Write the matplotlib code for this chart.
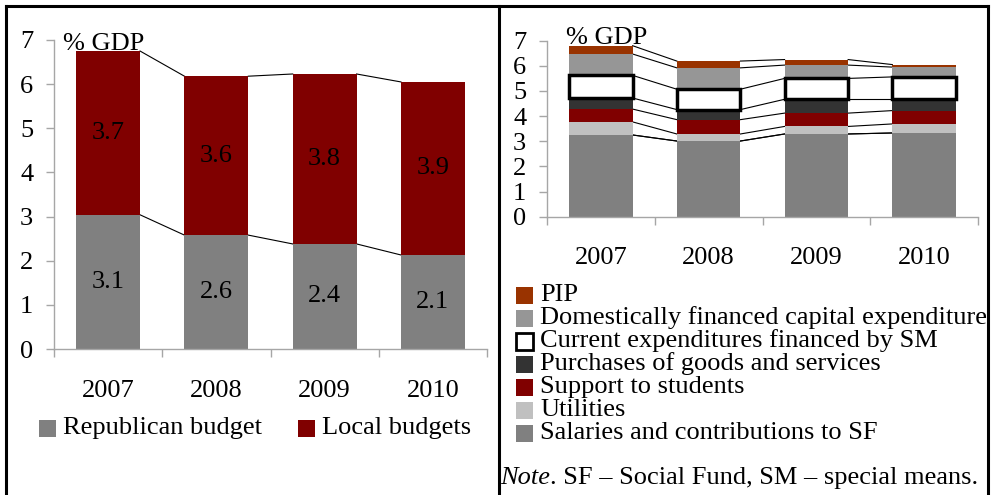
import matplotlib
matplotlib.use("Agg")
import matplotlib.pyplot as plt
from matplotlib.lines import Line2D
from matplotlib.patches import Rectangle
import numpy as np

plt.rcParams['font.family'] = ['Liberation Serif', 'DejaVu Serif']
FS = 19

years = ["2007", "2008", "2009", "2010"]

# left panel
republican = [3.04, 2.58, 2.38, 2.13]
local = [3.71, 3.60, 3.85, 3.92]
republican_lbl = ["3.1", "2.6", "2.4", "2.1"]
local_lbl = ["3.7", "3.6", "3.8", "3.9"]

# right panel (bottom to top)
salaries = [3.25, 3.01, 3.29, 3.33]
utilities = [0.52, 0.28, 0.30, 0.36]
students = [0.51, 0.57, 0.53, 0.53]
purchases = [0.44, 0.40, 0.55, 0.45]
current_sm = [0.90, 0.81, 0.83, 0.89]
capital = [0.85, 0.85, 0.53, 0.39]
pip = [0.33, 0.27, 0.22, 0.10]

W, H = 1000, 495
fig = plt.figure(figsize=(10, 4.95), dpi=100)

def fx(px):
    return px / W

def fy(py):
    return 1 - py / H

def axes_px(l, r, t, b):
    return fig.add_axes([fx(l), fy(b), fx(r) - fx(l), fy(t) - fy(b)])

def style_axis(ax, pad_y, pad_x):
    ax.set_xlim(-0.5, 3.5)
    ax.set_ylim(0, 7)
    ax.set_yticks(range(8))
    ax.set_xticks([-0.5, 0.5, 1.5, 2.5, 3.5])
    ax.set_xticklabels([])
    ax.set_xticks(range(4), minor=True)
    ax.set_xticklabels(years, minor=True)
    for s in ['top', 'right']:
        ax.spines[s].set_visible(False)
    for s in ['left', 'bottom']:
        ax.spines[s].set_color('#a6a6a6')
        ax.spines[s].set_linewidth(1)
    ax.tick_params(axis='both', which='major', length=6, width=1, color='#a6a6a6', labelsize=FS)
    ax.tick_params(axis='y', pad=pad_y)
    ax.tick_params(axis='x', which='minor', length=0, labelsize=FS, pad=pad_x)
    ax.patch.set_alpha(0)

def connectors(ax, tops, w):
    for i in range(len(tops) - 1):
        ax.plot([i + w / 2, i + 1 - w / 2], [tops[i], tops[i + 1]], color='black', lw=0.8, zorder=1)

# ---- left chart
w = 0.59
ax1 = axes_px(54, 487, 40, 349)
x = np.arange(4)
b1 = ax1.bar(x, republican, w, color='#808080', zorder=2)
b2 = ax1.bar(x, local, w, bottom=republican, color='#800000', zorder=2)
ax1.bar_label(b1, labels=republican_lbl, label_type='center', fontsize=FS)
ax1.bar_label(b2, labels=local_lbl, label_type='center', fontsize=FS)
connectors(ax1, republican, w)
connectors(ax1, np.add(republican, local), w)
style_axis(ax1, 9, 22)
fig.text(fx(63), fy(44), "% GDP", fontsize=FS, va='center', ha='left')

# ---- right chart
ax2 = axes_px(547, 978, 40.7, 216.7)
series = [salaries, utilities, students, purchases, current_sm, capital, pip]
colors = ['#808080', '#c0c0c0', '#800000', '#333333', 'white', '#969696', '#993300']
names = ["Salaries and contributions to SF", "Utilities", "Support to students",
         "Purchases of goods and services", "Current expenditures financed by SM",
         "Domestically financed capital expenditure", "PIP"]
bottom = np.zeros(4)
for vals, c in zip(series, colors):
    if c == 'white':
        ax2.bar(x, vals, w, bottom=bottom, color='white', edgecolor='black', linewidth=2.5, zorder=3)
    else:
        ax2.bar(x, vals, w, bottom=bottom, color=c, zorder=2)
    bottom = bottom + np.array(vals)
    connectors(ax2, bottom, w)
connectors(ax2, np.array(salaries), w)
style_axis(ax2, 9, 22)
fig.text(fx(566), fy(38), "% GDP", fontsize=FS, va='center', ha='left')

# ---- legends (drawn by hand, tight rows)
def legend_entry(px, py, color, label, edge=None):
    sq = 17
    fig.add_artist(Rectangle((fx(px), fy(py + sq / 2)), sq / W, sq / H, transform=fig.transFigure,
                             facecolor=color, edgecolor=edge if edge else color,
                             linewidth=2 if edge else 0))
    fig.text(fx(px + 24), fy(py), label, fontsize=FS, va='center', ha='left')

legend_entry(39, 428, '#808080', "Republican budget")
legend_entry(298, 428, '#800000', "Local budgets")

rows_y = [295, 318, 341, 364, 387, 410, 433]
for yy, name, c in zip(rows_y, names[::-1], colors[::-1]):
    legend_entry(516, yy, c, name, edge='black' if c == 'white' else None)

t1 = fig.text(fx(500), fy(478), "Note", fontsize=FS, style='italic', va='center', ha='left')
ax2.annotate(". SF \u2013 Social Fund, SM \u2013 special means.", xy=(1, 0), xycoords=t1,
             fontsize=FS, va='bottom', ha='left', annotation_clip=False)

# ---- frame
for (x0, y0, x1, y1) in [(6, 6, 6, 495), (6, 6, 988, 6), (988, 6, 988, 495), (499, 6, 499, 495)]:
    fig.add_artist(Line2D([fx(x0), fx(x1)], [fy(y0), fy(y1)], transform=fig.transFigure,
                          color='black', lw=2.2))

fig.savefig("out.png", dpi=100)
